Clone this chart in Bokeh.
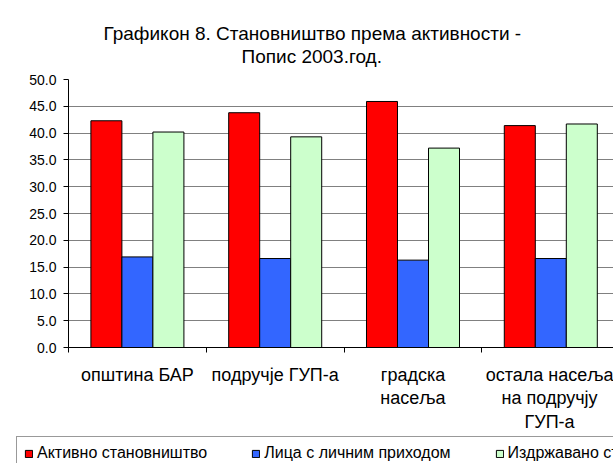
import numpy as np
from bokeh.plotting import figure
from bokeh.models import (Range1d, FixedTicker, Legend, LegendItem, Title,
                          ColumnDataSource, NumeralTickFormatter)
from bokeh.transform import dodge
from bokeh.embed import file_html
from bokeh.resources import INLINE

# ---- data ----
categories = ["општина БАР", "подручје ГУП-а", "градска\nнасеља",
              "остала насеља\nна подручју\nГУП-а"]
series_names = ["Активно становништво", "Лица с личним приходом",
                "Издржавано становништво"]
active = [42.3, 43.8, 45.9, 41.4]
income = [16.9, 16.6, 16.3, 16.6]
dependent = [40.2, 39.3, 37.2, 41.7]
y_ticks = [0, 5, 10, 15, 20, 25, 30, 35, 40, 45, 50]
title_lines = ["Графикон 8. Становништво према активности -", "Попис 2003.год."]

FONT = "Liberation Sans"
colors = ["#FF0000", "#3366FF", "#CCFFCC"]

centers = list(np.arange(len(categories)) + 0.5)
src = ColumnDataSource(dict(x=centers, active=active, income=income,
                            dependent=dependent))

p = figure(width=613, height=434, output_backend="svg",
           toolbar_location=None, title=None,
           x_range=Range1d(0, 3.955), y_range=Range1d(0, 50),
           min_border_left=68, min_border_right=0, min_border_top=79,
           min_border_bottom=87)
p.outline_line_color = None
p.background_fill_color = "white"
p.border_fill_color = "white"

# bars
bw = 0.225
r1 = p.vbar(x=dodge("x", -bw, range=p.x_range), top="active", width=bw,
            source=src, fill_color=colors[0], line_color="black", line_width=1)
r2 = p.vbar(x=dodge("x", 0, range=p.x_range), top="income", width=bw,
            source=src, fill_color=colors[1], line_color="black", line_width=1)
r3 = p.vbar(x=dodge("x", bw, range=p.x_range), top="dependent", width=bw,
            source=src, fill_color=colors[2], line_color="black", line_width=1)

# grid
p.xgrid.visible = False
p.ygrid.ticker = FixedTicker(ticks=y_ticks)
p.ygrid.grid_line_color = "#808080"
p.ygrid.grid_line_width = 1

# y axis
ya = p.left[0]
ya.ticker = FixedTicker(ticks=y_ticks)
ya.formatter = NumeralTickFormatter(format="0.0")
ya.major_tick_out = 5
ya.major_tick_in = 0
ya.minor_tick_out = 0
ya.minor_tick_in = 0
ya.axis_line_color = "black"
ya.major_tick_line_color = "black"
ya.major_label_text_font = FONT
ya.major_label_text_font_size = "14px"
ya.major_label_text_color = "black"
ya.major_label_standoff = 7

# x axis: labels at category centers, boundary ticks as minor ticks
xa = p.below[0]
xa.ticker = FixedTicker(ticks=centers, minor_ticks=list(range(len(categories) + 1)))
xa.major_label_overrides = {c: lab for c, lab in zip(centers, categories)}
xa.major_tick_out = 0
xa.major_tick_in = 0
xa.minor_tick_out = 5
xa.minor_tick_in = 0
xa.minor_tick_line_color = "black"
xa.axis_line_color = "black"
xa.major_label_text_font = FONT
xa.major_label_text_font_size = "18px"
xa.major_label_text_color = "black"
xa.major_label_text_line_height = 1.18
xa.major_label_standoff = 12

# title: small blank spacer, then second line, then first line
p.add_layout(Title(text=" ", text_font=FONT, text_font_size="10px",
                   standoff=0), "above")
p.add_layout(Title(text=title_lines[1], align="left", offset=173,
                   text_font=FONT, text_font_size="19px",
                   text_font_style="normal", text_color="black",
                   standoff=0), "above")
p.add_layout(Title(text=title_lines[0], align="left", offset=35,
                   text_font=FONT, text_font_size="19px",
                   text_font_style="normal", text_color="black",
                   standoff=0), "above")

# ---- legend strip under the chart (separate root, frame spans it all) ----
q = figure(width=613, height=29, output_backend="svg", toolbar_location=None,
           x_axis_location=None, y_axis_location=None, title=None,
           x_range=Range1d(0, 1), y_range=Range1d(0, 1),
           min_border=0, min_border_left=0, min_border_right=0,
           min_border_top=0, min_border_bottom=0)
q.grid.visible = False
q.outline_line_color = None
q.background_fill_color = "white"
q.border_fill_color = "white"
# legend key renderers (outside the visible range, only their keys are shown)
key_src = ColumnDataSource(dict(x=[-5.0], top=[0.0]))
k1 = q.vbar(x="x", top="top", width=0.1, source=key_src,
            fill_color=colors[0], line_color="black")
k2 = q.vbar(x="x", top="top", width=0.1, source=key_src,
            fill_color=colors[1], line_color="black")
k3 = q.vbar(x="x", top="top", width=0.1, source=key_src,
            fill_color=colors[2], line_color="black")

legend = Legend(items=[LegendItem(label=series_names[0], renderers=[k1]),
                       LegendItem(label=series_names[1], renderers=[k2]),
                       LegendItem(label=series_names[2], renderers=[k3])],
                orientation="horizontal", location=(16, -7))
legend.glyph_width = 9
legend.glyph_height = 9
legend.label_height = 16
legend.label_standoff = 4
legend.spacing = 44
legend.padding = 7
legend.margin = 0
legend.label_text_font = FONT
legend.label_text_font_size = "16px"
legend.label_text_color = "black"
legend.border_line_color = "#333333"
legend.border_line_width = 1
legend.background_fill_color = "white"
legend.background_fill_alpha = 1
q.add_layout(legend, "center")

open("out.html", "w").write(file_html([p, q], INLINE))
